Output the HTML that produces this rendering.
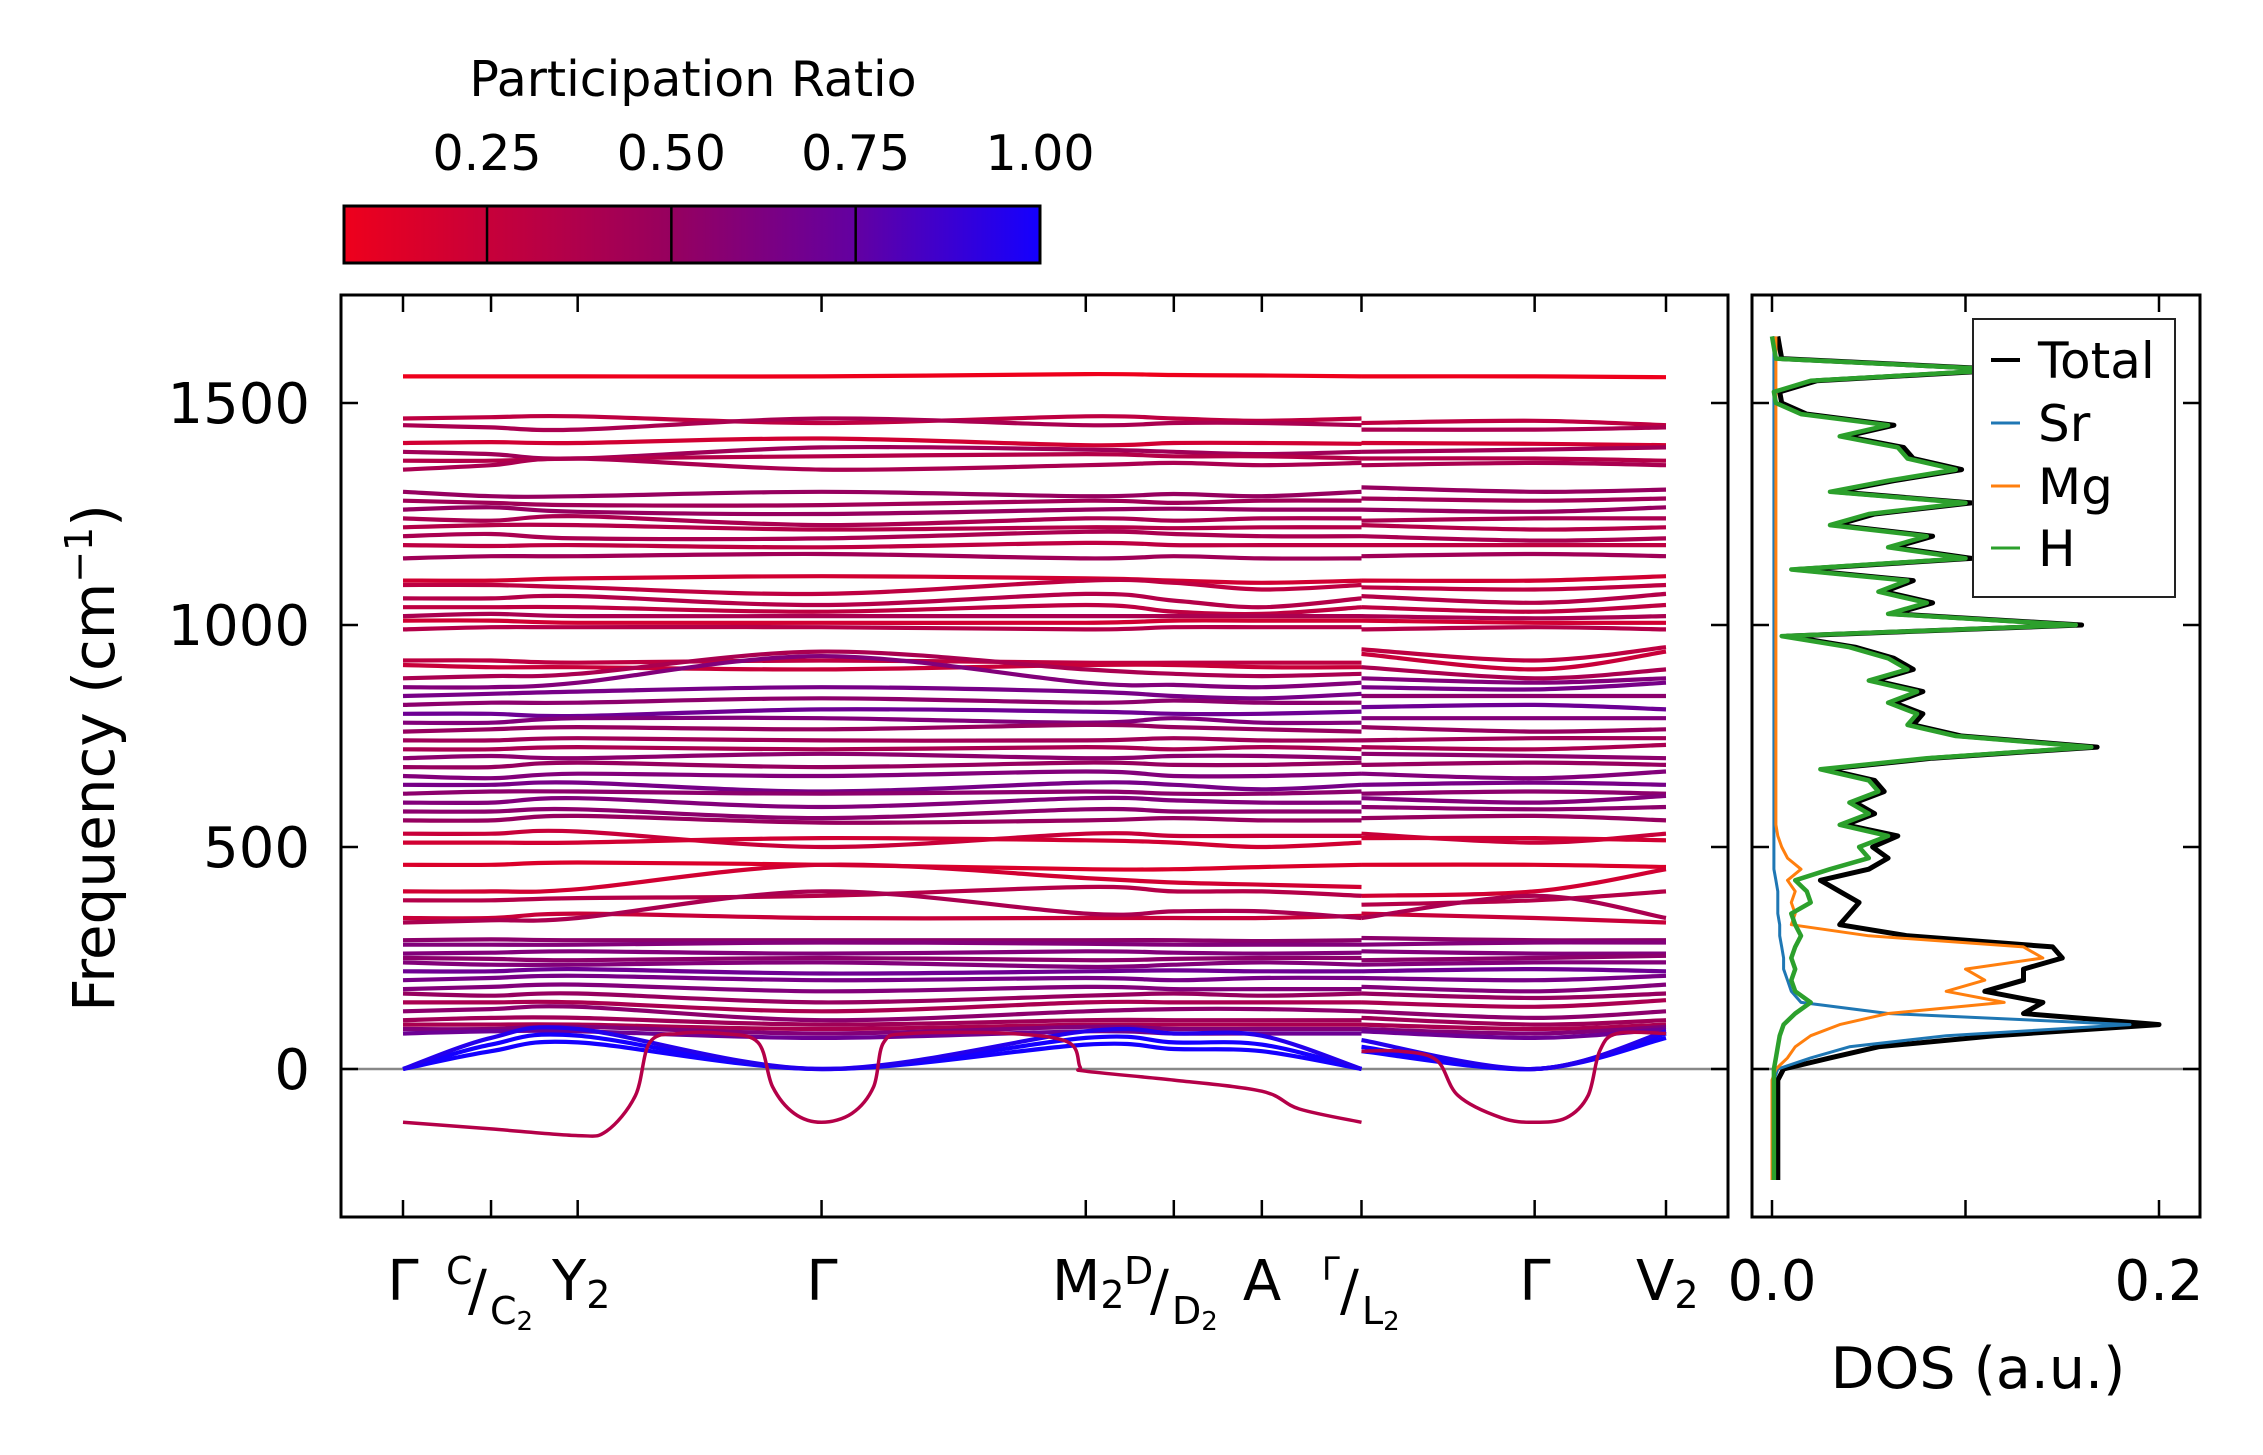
<!DOCTYPE html>
<html><head><meta charset="utf-8"><style>
html,body{margin:0;padding:0;background:#fff;}
svg text{font-family:"DejaVu Sans","Liberation Sans",sans-serif;fill:#000;}
</style></head><body>
<svg id="fig" width="2263" height="1455" viewBox="0 0 2263 1455" xmlns="http://www.w3.org/2000/svg" style="position:absolute;left:0;top:0">
<defs>
<linearGradient id="cmap" x1="0" x2="1" y1="0" y2="0">
<stop offset="0" stop-color="rgb(238,0,28)"/><stop offset="0.47" stop-color="rgb(150,0,95)"/><stop offset="0.73" stop-color="rgb(100,0,160)"/><stop offset="1" stop-color="rgb(20,0,255)"/>
</linearGradient>
<clipPath id="bandclip"><rect x="341" y="295" width="1387" height="922"/></clipPath>
<clipPath id="dosclip"><rect x="1752" y="295" width="448" height="922"/></clipPath>
</defs>
<g id="colorbar">
<text x="693" y="96" font-size="49" text-anchor="middle">Participation Ratio</text>
<rect x="344" y="206" width="696" height="57" fill="url(#cmap)" stroke="#000" stroke-width="3"/>
<g id="cbticks"></g>
</g>
<g id="bands" clip-path="url(#bandclip)"></g>
<g id="dos" clip-path="url(#dosclip)"></g>
<g id="axes"></g>
<g font-size="56">
<text x="403" y="1300" text-anchor="middle">Γ</text>
<text x="446" y="1284" font-size="38">C</text>
<text x="468" y="1310">/</text>
<text x="490" y="1324" font-size="38">C<tspan font-size="26" dy="6">2</tspan></text>
<text x="552" y="1300">Y<tspan font-size="38" dy="8">2</tspan></text>
<text x="822" y="1300" text-anchor="middle">Γ</text>
<text x="1052" y="1300">M<tspan font-size="38" dy="8">2</tspan></text>
<text x="1124" y="1284" font-size="38">D</text>
<text x="1150" y="1310">/</text>
<text x="1172" y="1324" font-size="38">D<tspan font-size="26" dy="6">2</tspan></text>
<text x="1262" y="1300" text-anchor="middle">A</text>
<text x="1322" y="1280" font-size="32">Γ</text>
<text x="1340" y="1310">/</text>
<text x="1362" y="1324" font-size="38">L<tspan font-size="26" dy="6">2</tspan></text>
<text x="1535" y="1300" text-anchor="middle">Γ</text>
<text x="1636" y="1300">V<tspan font-size="38" dy="8">2</tspan></text>
</g>
<text transform="translate(114,758) rotate(-90)" font-size="58" text-anchor="middle">Frequency (cm<tspan font-size="38" dy="-22">−1</tspan><tspan dy="22">)</tspan></text>
<text x="1978" y="1388" font-size="57" text-anchor="middle">DOS (a.u.)</text>
<g>
<rect x="1973" y="319" width="202" height="278" fill="#fff" stroke="#222" stroke-width="2"/>
<line x1="1991" x2="2020" y1="360" y2="360" stroke="#000" stroke-width="4"/>
<text x="2038" y="378" font-size="50">Total</text>
<line x1="1991" x2="2020" y1="423" y2="423" stroke="#1f77b4" stroke-width="3"/>
<text x="2038" y="441" font-size="50">Sr</text>
<line x1="1991" x2="2020" y1="486" y2="486" stroke="#ff7f0e" stroke-width="3"/>
<text x="2038" y="504" font-size="50">Mg</text>
<line x1="1991" x2="2020" y1="548" y2="548" stroke="#2ca02c" stroke-width="3"/>
<text x="2038" y="566" font-size="50">H</text>
</g>
</svg>
<script>
const kNodes = [0, 0.0697, 0.1383, 0.3314, 0.5406, 0.6103, 0.68, 0.7589, 0.7589, 0.896, 1.0];
const kTickPos = [0, 0.0697, 0.1383, 0.3314, 0.5406, 0.6103, 0.68, 0.7589, 0.896, 1.0];
const bandFreqs = [
[1560,1560,1560,1560,1565,1563,1562,1560,1560,1560,1558],
[1465,1468,1470,1455,1470,1465,1460,1465,1455,1460,1450],
[1450,1445,1440,1465,1450,1455,1455,1450,1440,1440,1445],
[1410,1412,1410,1420,1405,1410,1410,1408,1410,1408,1405],
[1390,1385,1375,1400,1395,1390,1385,1390,1390,1395,1400],
[1370,1370,1375,1380,1385,1380,1380,1375,1375,1375,1370],
[1350,1360,1375,1350,1360,1365,1360,1365,1360,1365,1360],
[1300,1290,1290,1300,1290,1295,1290,1300,1310,1300,1305],
[1280,1275,1270,1270,1280,1275,1280,1280,1285,1280,1285],
[1260,1265,1255,1250,1260,1262,1260,1260,1260,1255,1265],
[1240,1235,1245,1225,1240,1235,1240,1240,1235,1240,1240],
[1220,1225,1225,1215,1220,1218,1220,1220,1225,1215,1220],
[1200,1205,1195,1195,1210,1205,1200,1200,1200,1190,1195],
[1180,1178,1180,1175,1185,1180,1180,1180,1180,1180,1180],
[1150,1155,1155,1160,1150,1155,1150,1150,1155,1160,1155],
[1100,1100,1105,1110,1105,1100,1095,1100,1100,1100,1110],
[1090,1090,1085,1070,1100,1095,1080,1090,1085,1080,1090],
[1060,1060,1065,1045,1070,1055,1040,1060,1065,1050,1070],
[1040,1040,1040,1030,1045,1030,1025,1040,1040,1030,1045],
[1020,1025,1020,1020,1020,1020,1020,1020,1020,1015,1020],
[1010,1010,1005,1005,1005,1010,1010,1010,1010,1005,1005],
[990,995,995,995,990,995,995,995,990,995,990],
[920,920,915,920,915,915,915,915,945,920,950],
[910,905,905,900,910,910,905,905,935,900,940],
[880,885,890,940,900,890,885,890,905,880,900],
[860,860,870,930,870,865,860,870,880,870,880],
[840,845,850,860,850,840,835,845,860,855,870],
[820,825,825,835,825,830,825,825,840,840,840],
[800,800,795,810,805,800,800,805,815,820,810],
[780,780,790,790,780,790,780,780,790,790,790],
[760,765,770,765,775,770,765,760,770,760,765],
[740,740,745,740,740,745,740,740,740,745,745],
[720,720,725,720,725,720,725,720,725,720,730],
[700,705,700,710,700,705,705,700,710,705,700],
[680,680,690,680,690,685,685,690,685,690,685],
[660,655,665,660,670,660,660,665,665,655,670],
[640,640,645,625,645,640,630,640,640,645,640],
[620,625,625,620,625,620,620,625,620,625,620],
[600,600,610,590,610,605,600,600,610,600,615],
[580,580,585,565,585,580,580,580,590,585,590],
[560,560,570,555,560,565,560,560,565,570,560],
[530,530,535,500,530,525,525,525,530,510,530],
[510,510,510,520,515,510,500,510,520,520,515],
[460,460,465,460,450,450,455,460,460,460,455],
[400,400,405,460,430,420,415,410,390,400,450],
[380,380,385,390,410,400,400,390,370,380,400],
[340,340,350,340,340,340,340,345,350,340,330],
[330,335,340,400,350,355,355,340,340,390,340],
[290,292,290,290,290,290,288,290,295,290,290],
[280,280,280,285,282,280,280,280,280,285,285],
[260,262,265,260,265,262,260,262,265,260,260],
[250,248,245,250,245,248,250,250,245,250,255],
[240,235,235,240,230,235,240,235,235,240,240],
[220,220,225,215,220,222,220,220,220,225,220],
[200,205,210,200,205,200,205,205,205,200,210],
[180,185,190,175,185,180,180,180,185,175,190],
[170,165,170,150,165,170,165,170,170,160,170],
[150,150,150,130,150,150,150,150,150,140,155],
[130,135,140,110,130,135,135,130,130,115,130],
[110,115,115,100,110,110,110,110,115,100,110],
[100,100,100,90,100,100,100,100,100,90,100],
[90,90,95,80,95,90,90,90,90,80,95],
[80,85,85,70,85,80,80,80,85,70,90],
[0,40,60,0,55,45,40,0,40,0,70],
[0,55,75,0,70,60,55,0,50,0,80],
[0,70,90,0,85,80,75,0,65,0,85]
];
const bandPR = [0.05,0.3,0.4,0.2,0.45,0.35,0.4,0.5,0.45,0.5,0.4,0.35,0.4,0.3,0.45,0.2,0.3,0.35,0.3,0.4,0.2,0.35,
0.3,0.25,0.4,0.6,0.65,0.55,0.7,0.6,0.5,0.45,0.4,0.55,0.5,0.6,0.65,0.55,0.6,0.55,0.5,0.25,0.2,0.15,0.2,0.35,0.25,0.4,
0.55,0.6,0.6,0.55,0.6,0.7,0.65,0.6,0.5,0.4,0.55,0.45,0.4,0.6,0.7,1.0,1.0,0.95];
const softKLeft = [0,0.0697,0.1383,0.1611,0.184,0.1954,0.2183,0.2526,0.2811,0.2926,0.3097,0.3314,0.3554,0.3726,0.3806,0.4011,0.4811,0.5269,0.536,0.5406,0.6103,0.68,0.7097,0.7589];
const softFLeft = [-120,-135,-150,-140,-60,60,80,80,60,-40,-100,-120,-100,-40,60,80,80,60,5,-5,-25,-50,-90,-120];
const softKRight = [0.7589,0.7897,0.8183,0.8354,0.8697,0.896,0.9211,0.9383,0.9474,0.9611,1.0];
const softFRight = [40,40,20,-60,-110,-120,-110,-60,40,80,80];
const softPR = 0.35;
const dosFreqStart = -250, dosFreqStep = 25;
const dosH = [0.001,0.001,0.001,0.001,0.001,0.001,0.001,0.001,0.001,0.001,
0.001,0.002,0.003,0.004,0.006,0.012,0.02,0.012,0.01,0.012,0.01,0.012,0.015,0.012,0.01,0.02,0.018,0.012,0.03,0.05,0.045,0.06,0.035,0.05,0.04,0.055,0.05,0.025,0.08,0.165,0.095,0.07,0.075,0.06,0.075,0.05,0.07,0.06,0.04,0.005,0.157,0.06,0.08,0.055,0.07,0.01,0.1,0.06,0.08,0.03,0.05,0.1,0.03,0.06,0.095,0.07,0.065,0.035,0.06,0.015,0.002,0.001,0.02,0.12,0.002,0.001,0.0];
const dosSr = [0.001,0.001,0.001,0.001,0.001,0.001,0.001,0.001,0.001,0.001,
0.003,0.02,0.04,0.09,0.185,0.06,0.015,0.01,0.008,0.006,0.006,0.005,0.004,0.004,0.003,0.003,0.003,0.002,
0.001,0.001,0.001,0.001,0.001,0.001,0.001,0.001,0.001,0.001,0.001,0.001,0.001,0.001,0.001,0.001,0.001,0.001,0.001,0.001,0.001,0.001,0.001,0.001,0.001,0.001,0.001,0.001,0.001,0.001,0.001,0.001,0.001,0.001,0.001,0.001,0.001,0.001,0.001,0.001,0.001,0.001,0.001,0.001,0.001,0.001,0.001,0.001,0.001];
const dosMg = [0,0,0,0,0,0,0,0,0,0,
0.002,0.008,0.012,0.02,0.035,0.06,0.12,0.09,0.11,0.1,0.14,0.13,0.05,0.01,0.012,0.01,0.012,0.008,0.015,0.008,0.005,0.003,
0.002,0.002,0.002,0.002,0.002,0.002,0.002,0.002,0.002,0.002,0.002,0.002,0.002,0.002,0.002,0.002,0.002,0.002,0.002,0.002,0.002,0.002,0.002,0.002,0.002,0.002,0.002,0.002,0.002,0.002,0.002,0.002,0.002,0.002,0.002,0.002,0.002,0.002,0.002,0.002,0.002,0.002,0.002,0.002,0.002];
const dosTotal = [0.003,0.003,0.003,0.003,0.003,0.003,0.003,0.003,0.003,0.003,
0.006,0.03,0.055,0.115,0.2,0.13,0.14,0.11,0.13,0.13,0.15,0.145,0.07,0.035,0.04,0.045,0.035,0.025,0.05,0.06,0.052,0.065,
0.038,0.053,0.043,0.058,0.053,0.028,0.083,0.168,0.098,0.073,0.078,0.063,0.078,0.053,0.073,0.063,0.043,0.008,0.16,0.063,0.083,0.058,0.073,0.013,0.103,0.063,0.083,0.033,0.053,0.103,0.033,0.063,0.098,0.073,0.068,0.038,0.063,0.018,0.005,0.004,0.023,0.123,0.005,0.004,0.003];
const yTicks = [0,500,1000,1500];
const cbTicks = [0.25,0.5,0.75,1.0];
const cbTickLabels = ["0.25","0.50","0.75","1.00"];
const dosTicks = [0,0.1,0.2];
const dosTickLabels = ["0.0","","0.2"];

const NS="http://www.w3.org/2000/svg";
const X = k => 403 + 1263*k;
const Y = f => 1069 - 0.444*f;
const DX = v => 1772 + 1935*v;
const cbX = p => 344 + (p-0.056)/(1-0.056)*696;
function lerp(a,b,t){return a+(b-a)*t;}
function prColor(p){
  const t=Math.max(0,Math.min(1,(p-0.056)/(1-0.056)));
  const st=[[0,238,0,28],[0.47,150,0,95],[0.73,100,0,160],[1,20,0,255]];
  for(let i=0;i<st.length-1;i++){ if(t<=st[i+1][0]){const u=(t-st[i][0])/(st[i+1][0]-st[i][0]);
    return `rgb(${Math.round(lerp(st[i][1],st[i+1][1],u))},${Math.round(lerp(st[i][2],st[i+1][2],u))},${Math.round(lerp(st[i][3],st[i+1][3],u))})`;}}
  return "rgb(20,0,255)";
}
function smooth(pts){
  let d=`M${pts[0][0].toFixed(1)},${pts[0][1].toFixed(1)}`;
  for(let i=0;i<pts.length-1;i++){
    const p0=pts[Math.max(0,i-1)],p1=pts[i],p2=pts[i+1],p3=pts[Math.min(pts.length-1,i+2)];
    const c1x=p1[0]+(p2[0]-p0[0])/6, c1y=p1[1]+(p2[1]-p0[1])/6;
    const c2x=p2[0]-(p3[0]-p1[0])/6, c2y=p2[1]-(p3[1]-p1[1])/6;
    d+=`C${c1x.toFixed(1)},${c1y.toFixed(1)} ${c2x.toFixed(1)},${c2y.toFixed(1)} ${p2[0].toFixed(1)},${p2[1].toFixed(1)}`;
  }
  return d;
}
function el(tag,attrs,parent){const e=document.createElementNS(NS,tag);for(const a in attrs)e.setAttribute(a,attrs[a]);parent.appendChild(e);return e;}

const gB=document.getElementById('bands');
const zl=el('line',{x1:341,x2:1728,y1:Y(0),y2:Y(0),stroke:'#888',"stroke-width":2.5},gB);


bandFreqs.forEach((b,i)=>{
  const col=prColor(bandPR[i]);
  const left=[],right=[];
  for(let j=0;j<8;j++) left.push([X(kNodes[j]),Y(b[j])]);
  for(let j=8;j<11;j++) right.push([X(kNodes[j]),Y(b[j])]);
  [left,right].forEach(pts=>{
    const p=el('path',{d:smooth(pts),fill:'none',stroke:col,"stroke-width":4.2},gB);
    
    
  });
});
[[softKLeft,softFLeft],[softKRight,softFRight]].forEach(([ks,fs])=>{
  const pts=ks.map((k,i)=>[X(k),Y(fs[i])]);
  const p=el('path',{d:smooth(pts),fill:'none',stroke:prColor(softPR),"stroke-width":3.5},gB);
  
  
});

const gD=document.getElementById('dos');
const zl2=el('line',{x1:1752,x2:2200,y1:Y(0),y2:Y(0),stroke:'#888',"stroke-width":2.5},gD);


function dosLine(arr,color,w,name){
  const pts=arr.map((v,i)=>`${DX(v).toFixed(1)},${Y(dosFreqStart+i*dosFreqStep).toFixed(1)}`).join(' ');
  const p=el('polyline',{points:pts,fill:'none',stroke:color,"stroke-width":w,"stroke-linejoin":'round'},gD);
  
  
}
dosLine(dosTotal,'#000',5,'dos-total-line');
dosLine(dosSr,'#1f77b4',3,'dos-sr-line');
dosLine(dosMg,'#ff7f0e',3,'dos-mg-line');
dosLine(dosH,'#2ca02c',4.5,'dos-h-line');

const gA=document.getElementById('axes');
const f1=el('rect',{x:341,y:295,width:1387,height:922,fill:'none',stroke:'#000',"stroke-width":3},gA);


const f2=el('rect',{x:1752,y:295,width:448,height:922,fill:'none',stroke:'#000',"stroke-width":3},gA);


kTickPos.forEach(k=>{
  const t1=el('line',{x1:X(k),x2:X(k),y1:1217,y2:1200,stroke:'#000',"stroke-width":2.5},gA);
  
  
  const t2=el('line',{x1:X(k),x2:X(k),y1:295,y2:312,stroke:'#000',"stroke-width":2.5},gA);
  
  
});
yTicks.forEach(v=>{
  [[341,358],[1728,1711],[1752,1769],[2200,2183]].forEach(([a,b])=>{
    const t=el('line',{x1:a,x2:b,y1:Y(v),y2:Y(v),stroke:'#000',"stroke-width":2.5},gA);
    
    
  });
  const tx=el('text',{x:310,y:Y(v)+20,"font-size":56,"text-anchor":'end'},gA);
  tx.textContent=String(v);
  
  
});
dosTicks.forEach((v,i)=>{
  [[1217,1200],[295,312]].forEach(([a,b])=>{
    const t=el('line',{x1:DX(v),x2:DX(v),y1:a,y2:b,stroke:'#000',"stroke-width":2.5},gA);
    
    
  });
  if(dosTickLabels[i]){
    const tx=el('text',{x:DX(v),y:1300,"font-size":56,"text-anchor":'middle'},gA);
    tx.textContent=dosTickLabels[i];
    
    
  }
});
const gC=document.getElementById('cbticks');
cbTicks.forEach((v,i)=>{
  const t=el('line',{x1:cbX(v),x2:cbX(v),y1:206,y2:263,stroke:'#000',"stroke-width":2.5},gC);
  
  
  const tx=el('text',{x:cbX(v),y:170,"font-size":49,"text-anchor":'middle'},gC);
  tx.textContent=cbTickLabels[i];
  
  
});
</script>
</body></html>
